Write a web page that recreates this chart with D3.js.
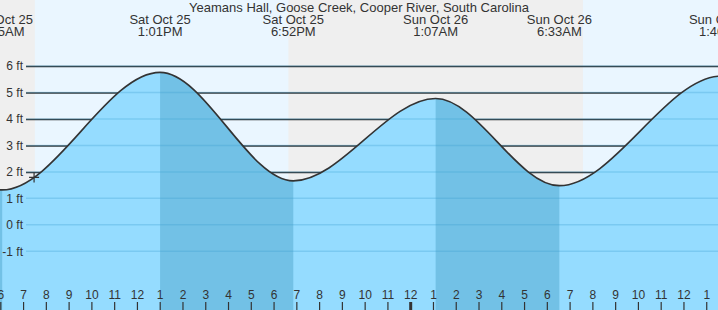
<!DOCTYPE html>
<html>
<head>
<meta charset="utf-8">
<script src="https://cdn.jsdelivr.net/npm/d3@7"></script>
<style>
	body { margin: 0; background: #fff; }
	svg { display: block; font-family: "Liberation Sans", Arial, sans-serif; }
	.lbl { fill: #333; font-size: 13px; }
	.axis text { fill: #333; font-size: 12px; }
</style>
</head>
<body>
<svg id="tide" width="718" height="310"></svg>
<script>
const title = "Yeamans Hall, Goose Creek, Cooper River, South Carolina";

// tide extremes (local time) and heights in ft; first and last are just off the chart
const tideTimes = [
	new Date(2025, 9, 25, 0, 25),
	new Date(2025, 9, 25, 6, 5),
	new Date(2025, 9, 25, 13, 1),
	new Date(2025, 9, 25, 18, 52),
	new Date(2025, 9, 26, 1, 7),
	new Date(2025, 9, 26, 6, 33),
	new Date(2025, 9, 26, 13, 40),
	new Date(2025, 9, 26, 19, 10),
];
const tideHeights = [4.9, 1.32, 5.76, 1.66, 4.77, 1.48, 5.62, 1.6];
const tideDays = ["Sat Oct 25", "Sat Oct 25", "Sat Oct 25", "Sat Oct 25", "Sun Oct 26", "Sun Oct 26", "Sun Oct 26", "Sun Oct 26"];
const tideClock = ["12:25AM", "6:05AM", "1:01PM", "6:52PM", "1:07AM", "6:33AM", "1:40PM", "7:10PM"];

// sunrise / sunset shading
const nightStart = [new Date(2025, 9, 25, 0, 0), new Date(2025, 9, 25, 18, 39)];
const nightEnd = [new Date(2025, 9, 25, 7, 31), new Date(2025, 9, 26, 7, 35)];

const yTicks = [-1, 0, 1, 2, 3, 4, 5, 6];
const nowTime = new Date(2025, 9, 25, 7, 29);

const width = 718, height = 310;
const svg = d3.select("svg#tide");

const x = d3.scaleTime()
	.domain([new Date(2025, 9, 25, 6, 0), new Date(2025, 9, 26, 13, 31)])
	.range([0.3, 718]);
const y = d3.scaleLinear().domain([-1, 6]).range([251.3, 66]);

const pts = tideTimes.map((t, i) => ({ t: t, h: tideHeights[i] }));

// background: day / night
svg.append("rect").attr("width", width).attr("height", height).attr("fill", "#eaf6ff");
svg.selectAll("rect.night")
	.data(nightStart)
	.join("rect")
	.classed("night", true)
	.attr("x", (d) => x(d))
	.attr("width", (d, i) => x(nightEnd[i]) - x(d))
	.attr("y", 0)
	.attr("height", height)
	.attr("fill", "#efefef");

// grid lines behind the water
const gy = svg.append("g")
	.attr("class", "axis")
	.attr("transform", "translate(26,0)")
	.call(d3.axisLeft(y).tickValues(yTicks).tickSize(-(width - 26)).tickFormat(""));
gy.select(".domain").remove();
gy.selectAll("line").attr("stroke", "#333").attr("stroke-width", 1.5);

// water
const area = d3.area()
	.x((d) => x(d.t))
	.y0(height)
	.y1((d) => y(d.h))
	.curve(d3.curveMonotoneX);
const line = d3.line()
	.x((d) => x(d.t))
	.y((d) => y(d.h))
	.curve(d3.curveMonotoneX);

svg.append("path").datum(pts).attr("d", area).attr("fill", "#95dcff");

// falling tide (high -> low) drawn darker, clipped out of the same area
const ebbs = [];
for (let i = 0; i < pts.length - 1; i++) {
	if (pts[i].h > pts[i + 1].h) ebbs.push([pts[i].t, pts[i + 1].t]);
}
const defs = svg.append("defs");
defs.append("clipPath")
	.attr("id", "ebb-clip")
	.selectAll("rect")
	.data(ebbs)
	.join("rect")
	.attr("x", (d) => x(d[0]))
	.attr("width", (d) => x(d[1]) - x(d[0]))
	.attr("y", 0)
	.attr("height", height);
svg.append("path").datum(pts)
	.attr("d", area)
	.attr("fill", "#72c1e6")
	.attr("clip-path", "url(#ebb-clip)");

// grid lines seen through the water
svg.selectAll("line.wgrid")
	.data(yTicks)
	.join("line")
	.classed("wgrid", true)
	.attr("x1", 26)
	.attr("x2", width)
	.attr("y1", (d) => y(d))
	.attr("y2", (d) => y(d))
	.attr("stroke", "#3d9fd0")
	.attr("stroke-opacity", 0.3)
	.attr("stroke-width", 1.5);

svg.append("path").datum(pts).attr("d", line)
	.attr("fill", "none").attr("stroke", "#333").attr("stroke-width", 1.6);

// y labels on top of everything
const gyl = svg.append("g")
	.attr("class", "axis")
	.attr("transform", "translate(26,0)")
	.call(d3.axisLeft(y).tickValues(yTicks).tickSize(0).tickPadding(3).tickFormat((d) => d + " ft"));
gyl.select(".domain").remove();
gyl.selectAll("line").remove();

// current position marker, sitting on the curve
const curvePath = svg.append("path").datum(pts).attr("d", line).attr("fill", "none").attr("stroke", "none");
const node = curvePath.node();
const nx = x(nowTime);
let lo = 0, hi = node.getTotalLength();
for (let k = 0; k < 40; k++) {
	const mid = (lo + hi) / 2;
	if (node.getPointAtLength(mid).x < nx) lo = mid; else hi = mid;
}
const ny = node.getPointAtLength(lo).y;
svg.append("path")
	.attr("d", `M${nx - 5},${ny}h10M${nx},${ny - 5}v10`)
	.attr("stroke", "#333")
	.attr("stroke-width", 1.2);

// hour axis at the bottom
const hours = d3.timeHour.range(new Date(2025, 9, 25, 6, 0), new Date(2025, 9, 26, 14, 0));
const xAxis = d3.axisTop(x)
	.tickValues(hours)
	.tickSize(8)
	.tickPadding(3)
	.tickFormat((d) => { const h = d.getHours() % 12; return h === 0 ? 12 : h; });
const gx = svg.append("g")
	.attr("class", "axis")
	.attr("transform", `translate(0,${height})`)
	.call(xAxis);
gx.select(".domain").remove();
gx.selectAll("line")
	.attr("stroke", "#333")
	.attr("stroke-width", (d) => (d.getHours() === 0 ? 3 : 1.2));

// title and tide labels
svg.append("text")
	.attr("class", "lbl")
	.attr("x", width / 2)
	.attr("y", 12)
	.attr("text-anchor", "middle")
	.text(title);

const [x0, x1] = x.domain();
const shown = pts.map((d, i) => ({ ...d, i })).filter((d) => d.t >= x0 - 3600e3 && d.t <= +x1 + 3600e3);
const labels = svg.selectAll("g.tlabel")
	.data(shown)
	.join("g")
	.classed("tlabel", true)
	.attr("transform", (d) => `translate(${x(d.t)},0)`);
labels.append("text")
	.attr("class", "lbl")
	.attr("y", 24)
	.attr("text-anchor", "middle")
	.text((d) => tideDays[d.i]);
labels.append("text")
	.attr("class", "lbl")
	.attr("y", 36)
	.attr("text-anchor", "middle")
	.text((d) => tideClock[d.i]);
</script>
</body>
</html>
